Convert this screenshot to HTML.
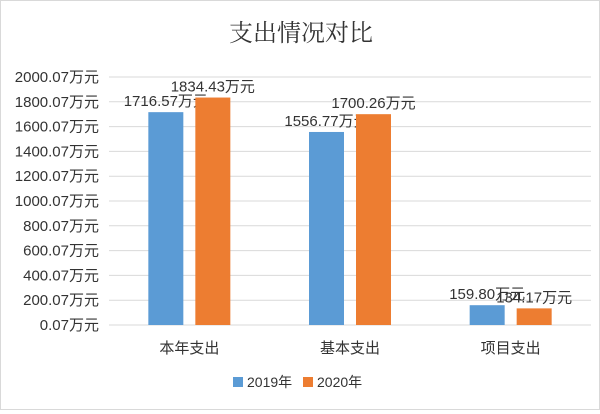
<!DOCTYPE html>
<html><head><meta charset="utf-8"><style>
body{margin:0;background:#fff;}
#wrap{position:relative;width:598px;height:408px;border:1px solid #d9d9d9;background:#fff;font-family:"Liberation Sans","Noto Sans CJK SC",sans-serif;}
svg text{font-family:"Liberation Sans","Noto Sans CJK SC",sans-serif;}
</style></head><body>
<div id="wrap">
<svg id="c" width="598" height="408">
<text x="300" y="40" text-anchor="middle" font-size="24" fill="#333" style="font-family:'Liberation Serif','Noto Serif CJK SC',serif">支出情况对比</text>
<g id="grid"></g><g id="bars"></g>
<g>
<rect x="232" y="376" width="10" height="10" fill="#5b9bd5"/>
<text x="246" y="386" font-size="14" fill="#333">2019年</text>
<rect x="302" y="376" width="10" height="10" fill="#ed7d31"/>
<text x="316" y="386" font-size="14" fill="#333">2020年</text>
</g>
</svg></div>
<script>
const categories=["本年支出","基本支出","项目支出"];
const s2019=[1716.57,1556.77,159.80];
const s2020=[1834.43,1700.26,134.17];
const ticks=[0.07,200.07,400.07,600.07,800.07,1000.07,1200.07,1400.07,1600.07,1800.07,2000.07];
const NS="http://www.w3.org/2000/svg";
const x0=108,x1=590,yTop=76,yBot=324;
const y=v=>yBot-(v-0.07)/2000*(yBot-yTop);
const cw=(x1-x0)/categories.length;
const grid=document.getElementById('grid'),bars=document.getElementById('bars');
function mk(t,a,p){const e=document.createElementNS(NS,t);for(const k in a)e.setAttribute(k,a[k]);p.appendChild(e);return e;}
ticks.forEach(t=>{
 const l=mk('line',{x1:x0,x2:x1,y1:y(t),y2:y(t),stroke:'#d9d9d9','stroke-width':1},grid);
 
 
 const tx=mk('text',{x:98,y:y(t)+5,'text-anchor':'end','font-size':15,fill:'#333'},grid);
 tx.textContent=t.toFixed(2)+'万元';
 
 
});
categories.forEach((c,i)=>{
 const cx=x0+cw*(i+0.5);
 [[s2019,'#5b9bd5',cx-41,'2019'],[s2020,'#ed7d31',cx+6,'2020']].forEach(([s,col,bx,n])=>{
  const v=s[i];
  const r=mk('rect',{x:bx,y:y(v),width:35,height:yBot-y(v),fill:col},bars);
  
  
  const lt=mk('text',{x:bx+17.5,y:y(v)-6,'text-anchor':'middle','font-size':15,fill:'#333'},bars);
  lt.textContent=v.toFixed(2)+'万元';
  
  
 });
 const ct=mk('text',{x:cx,y:352,'text-anchor':'middle','font-size':15,fill:'#333'},bars);
 ct.textContent=c;
 
 
});
</script>
</body></html>
